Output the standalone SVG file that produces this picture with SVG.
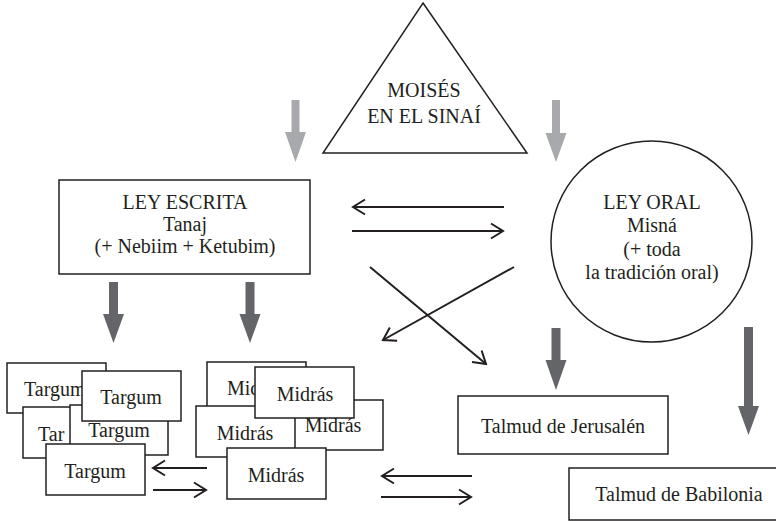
<svg xmlns="http://www.w3.org/2000/svg" width="776" height="521" viewBox="0 0 776 521">
<style>
text{font-family:"Liberation Serif","Times New Roman",serif;font-size:20px;fill:#231f20;text-anchor:middle}
.box{fill:#fff;stroke:#231f20;stroke-width:1.5}
.ln{fill:none;stroke:#231f20;stroke-width:2;marker-end:url(#chev)}
.light{fill:#a7a9ac}
.dark{fill:#646569}
</style>
<defs>
<marker id="chev" markerUnits="userSpaceOnUse" viewBox="-16 -10 18 20" markerWidth="18" markerHeight="20" refX="0" refY="0" orient="auto">
<path d="M-12,-7.5 L0,0 L-12,7.5" fill="none" stroke="#231f20" stroke-width="2"/>
</marker>
</defs>
<rect width="776" height="521" fill="#fff"/>
<g id="connectors">
<polygon class="light" points="291.5,100 299.5,100 299.5,132 306,132 295.5,162 285,132 291.5,132"/>
<polygon class="light" points="552,100 560,100 560,133 566.5,133 556,162 545.5,133 552,133"/>
<polygon class="dark" points="109,282 118,282 118,314 124,314 113.5,343 103,314 109,314"/>
<polygon class="dark" points="245.5,282 254.5,282 254.5,314 260.5,314 250,343 239.5,314 245.5,314"/>
<polygon class="dark" points="551.5,328 560.5,328 560.5,360 566.5,360 556,390 545.5,360 551.5,360"/>
<polygon class="dark" points="744,327 753,327 753,406 759,406 748.5,435 738,406 744,406"/>
<line class="ln" x1="504" y1="207" x2="353" y2="207"/>
<line class="ln" x1="352" y1="231" x2="503" y2="231"/>
<line class="ln" x1="370" y1="267" x2="486" y2="364"/>
<line class="ln" x1="514" y1="267" x2="383" y2="340"/>
<line class="ln" x1="207" y1="468" x2="153" y2="468"/>
<line class="ln" x1="153" y1="490" x2="206" y2="490"/>
<line class="ln" x1="472" y1="476" x2="382" y2="476"/>
<line class="ln" x1="381" y1="497" x2="471" y2="497"/>
</g>
<g id="moises">
<polygon class="box" points="423,3 527,153 323,153" stroke-width="1.2"/>
<text x="424" y="97">MOISÉS</text>
<text x="424" y="123">EN EL SINAÍ</text>
</g>
<g id="ley-escrita">
<rect class="box" x="59" y="180" width="251" height="94"/>
<text x="185" y="209">LEY ESCRITA</text>
<text x="185" y="231">Tanaj</text>
<text x="185" y="253">(+ Nebiim + Ketubim)</text>
</g>
<g id="ley-oral">
<circle class="box" cx="651.5" cy="241.5" r="100.5" stroke-width="1.2"/>
<text x="652" y="209">LEY ORAL</text>
<text x="652" y="232">Misná</text>
<text x="652" y="256">(+ toda</text>
<text x="652" y="279">la tradición oral)</text>
</g>
<g id="targum1">
<rect class="box" x="7" y="363" width="99" height="50"/>
<text x="24" y="396" style="text-anchor:start">Targum</text>
</g>
<g id="targum3">
<rect class="box" x="23" y="407" width="99" height="51"/>
<text x="38" y="441" style="text-anchor:start">Tar</text>
</g>
<g id="targum4">
<rect class="box" x="70" y="405" width="98" height="50"/>
<text x="119" y="437">Targum</text>
</g>
<g id="targum2">
<rect class="box" x="82" y="371" width="99" height="50"/>
<text x="131" y="404">Targum</text>
</g>
<g id="targum5">
<rect class="box" x="46" y="444" width="99" height="51"/>
<text x="95" y="478">Targum</text>
</g>
<g id="midras1">
<rect class="box" x="207" y="362" width="99" height="50"/>
<text x="227" y="395" style="text-anchor:start">Midrás</text>
</g>
<g id="midras3">
<rect class="box" x="284" y="400" width="99" height="50"/>
<text x="333" y="432">Midrás</text>
</g>
<g id="midras4">
<rect class="box" x="196" y="406" width="99" height="51"/>
<text x="245" y="440">Midrás</text>
</g>
<g id="midras2">
<rect class="box" x="255" y="367" width="99" height="51"/>
<text x="305" y="401">Midrás</text>
</g>
<g id="midras5">
<rect class="box" x="227" y="448" width="99" height="51"/>
<text x="276" y="482">Midrás</text>
</g>
<g id="talmud-jerusalen">
<rect class="box" x="458" y="396" width="210" height="58"/>
<text x="563" y="433">Talmud de Jerusalén</text>
</g>
<g id="talmud-babilonia">
<rect class="box" x="569" y="468" width="222" height="52"/>
<text x="679" y="501">Talmud de Babilonia</text>
</g>
</svg>
